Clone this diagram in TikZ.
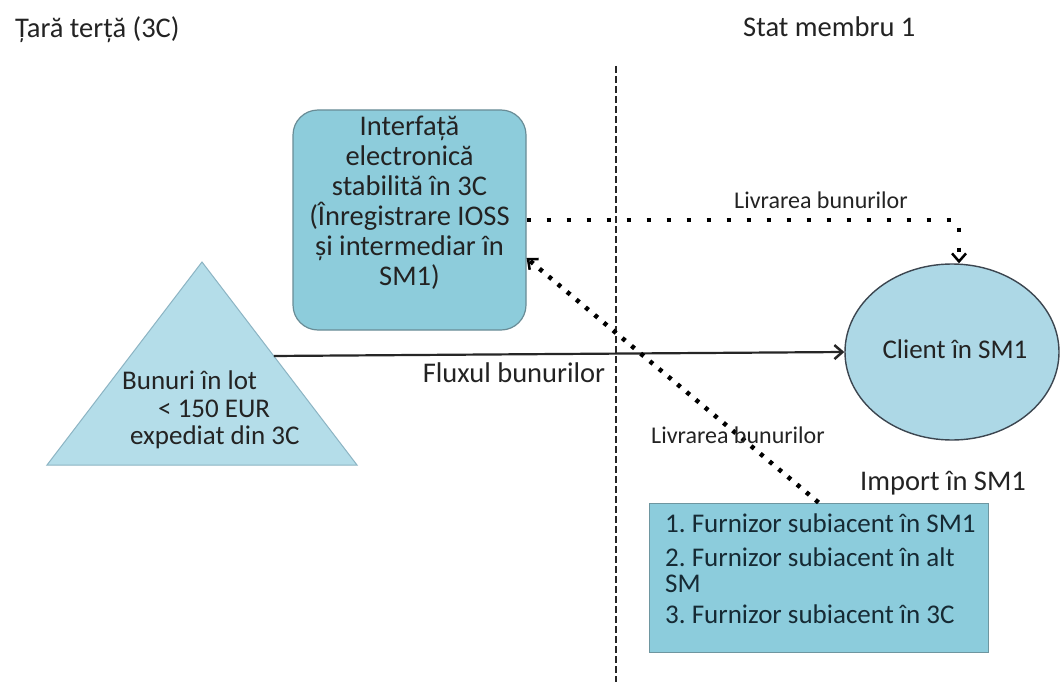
\documentclass[tikz,border=0pt]{standalone}
\usepackage{fontspec}
\setmainfont{Carlito}
\frenchspacing
\usetikzlibrary{shapes.geometric,arrows.meta,calc}
\definecolor{ifacefill}{RGB}{141,204,219}
\definecolor{ifaceline}{RGB}{105,140,150}
\definecolor{trifill}{RGB}{180,221,233}
\definecolor{triline}{RGB}{140,180,195}
\definecolor{ellfill}{RGB}{173,216,230}
\definecolor{ellline}{RGB}{60,70,80}
\definecolor{boxfill}{RGB}{140,204,220}
\definecolor{boxline}{RGB}{110,150,160}
\definecolor{txt}{RGB}{35,35,35}
\definecolor{boxtxt}{RGB}{22,42,52}
\tikzset{
  big/.style={font=\fontsize{28.5}{30}\selectfont, text=txt, inner sep=0pt},
  mid/.style={font=\fontsize{27}{30}\selectfont, text=txt, inner sep=0pt},
  lbl/.style={font=\fontsize{24}{28}\selectfont, text=txt, inner sep=0pt},
  border/.style={draw=black!85, line width=2pt, dash pattern=on 7pt off 3pt},
  dotwide/.style={draw=black, line width=4.5pt, dash pattern=on 4pt off 16pt},
  dotnarrow/.style={draw=black, line width=4.5pt, dash pattern=on 4pt off 8pt},
  tip/.style={-{Straight Barb[length=8pt,width=14pt,line width=2.5pt]}},
}
\begin{document}
\begin{tikzpicture}[x=1pt,y=-1pt]
\useasboundingbox[fill=white] (0,0) rectangle (1064,682);

% headings
\node[big, anchor=base west] (third) at (15,38) {Țară terță (3C)};
\node[big, anchor=base west] (member) at (743,37) {Stat membru 1};

% border between the two territories
\coordinate (bordtop) at (616,66);
\coordinate (bordbot) at (616,682);
\draw[border] (bordtop) -- (bordbot);

% electronic interface
\node[draw=ifaceline, line width=1.2pt, fill=ifacefill, rounded corners=25pt,
      minimum width=233pt, minimum height=220pt, inner sep=0pt] (iface) at (409.5,220) {};
\node[big, align=center] (ifacetext) at (409.5,203)
  {Interfață\\electronică\\stabilită în 3C\\(Înregistrare IOSS\\și intermediar în\\SM1)};

% consignment of goods
\coordinate (apex) at (202,262);
\coordinate (baseL) at (47,465);
\coordinate (baseR) at (357,465);
\draw[draw=triline, line width=1pt, fill=trifill] (apex) -- (baseR) -- (baseL) -- cycle;
\node[mid, align=left, anchor=north west] (goods) at (122,371)
  {Bunuri în lot\\[-2.5pt]\hspace*{36pt}< 150 EUR\\[-2.5pt]\hspace*{8pt}expediat din 3C};

% customer
\node[draw=ellline, line width=1.4pt, fill=ellfill, ellipse,
      minimum width=214pt, minimum height=176pt, inner sep=0pt] (client) at (952,352) {};
\node[mid] (clienttext) at (955,349) {Client în SM1};

% import box
\node[draw=boxline, line width=1pt, fill=boxfill, minimum width=339pt,
      minimum height=149pt, inner sep=0pt] (imp) at (818.5,577.5) {};
\node[mid, text=boxtxt, align=left, anchor=north west] (imptext) at (665,514)
  {1. Furnizor subiacent în SM1\\[4pt]2. Furnizor subiacent în alt\\[-4pt]SM\\[1pt]3. Furnizor subiacent în 3C};
\node[big] (implbl) at (943,483) {Import în SM1};

% flow of goods
\coordinate (flowstart) at ($(apex)!0.463!(baseR)$);
\draw[line width=2.2pt, draw=black!85, tip] (flowstart) -- (client.west);
\node[big] (flowlbl) at (514,373) {Fluxul bunurilor};

% deliveries
\draw[dotwide, tip] (iface.east) -| ([xshift=7pt]client.north);
\node[lbl] (deliv1) at (821,200) {Livrarea bunurilor};
\draw[dotnarrow, tip] (imp.north) -- ($(iface.east)+(0,38)$);
\node[lbl] (deliv2) at (738,435) {Livrarea bunurilor};
\end{tikzpicture}
\end{document}
